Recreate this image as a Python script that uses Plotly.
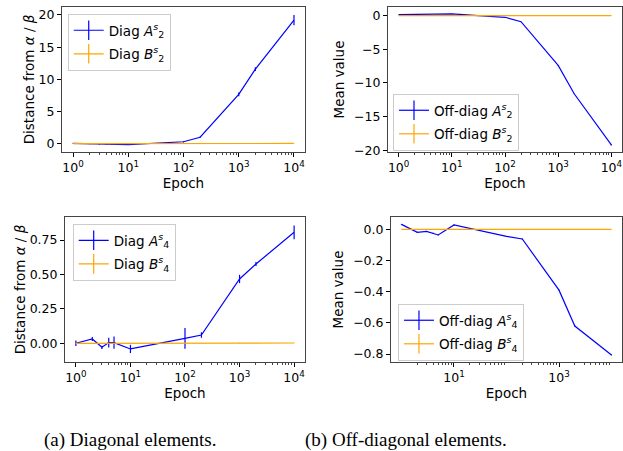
import plotly.graph_objects as go

# ---------------- data ----------------
epochs = [1, 2, 3, 4, 5, 10, 100, 200, 1000, 2000, 10000]

diag_a2 = [0.10, 0.02, -0.05, -0.05, -0.08, -0.10, 0.35, 1.05, 7.7, 11.6, 19.2]
diag_a2_err = [0.05, 0.05, 0.05, 0.05, 0.05, 0.05, 0.10, 0.10, 0.30, 0.30, 0.80]
diag_b2 = [0.05, 0.05, 0.05, 0.05, 0.05, 0.05, 0.06, 0.06, 0.07, 0.07, 0.08]
diag_b2_err = [0.02] * 11

off_a2 = [0.15, 0.20, 0.20, 0.20, 0.20, 0.25, -0.25, -0.90, -7.4, -11.6, -19.2]
off_a2_err = [0.02, 0.02, 0.02, 0.02, 0.02, 0.02, 0.03, 0.03, 0.05, 0.05, 0.10]
off_b2 = [0.0, 0.0, 0.0, 0.0, 0.0, 0.0, 0.0, 0.0, 0.0, 0.0, 0.0]
off_b2_err = [0.01] * 11

diag_a4 = [0.0, 0.031, -0.029, 0.005, 0.005, -0.041, 0.036, 0.060, 0.467, 0.576, 0.806]
diag_a4_err = [0.020, 0.015, 0.012, 0.035, 0.045, 0.030, 0.075, 0.020, 0.030, 0.015, 0.050]
diag_b4 = [0.0, 0.0, 0.0, 0.0, 0.0, 0.0, 0.001, 0.001, 0.002, 0.002, 0.002]
diag_b4_err = [0.002] * 11

off_a4 = [0.032, -0.019, -0.013, -0.025, -0.036, 0.028, -0.045, -0.062, -0.39, -0.62, -0.806]
off_a4_err = [0.003] * 11
off_b4 = [0.0] * 11
off_b4_err = [0.001] * 11

x_tickvals = [1, 10, 100, 1000, 10000]
x_ticktext = ["10<sup>0</sup>", "10<sup>1</sup>", "10<sup>2</sup>", "10<sup>3</sup>", "10<sup>4</sup>"]
x_tickvals_b = [10, 1000]
x_ticktext_b = ["10<sup>1</sup>", "10<sup>3</sup>"]

BLUE = "#0000ff"
ORANGE = "#ffa500"
FONT = "DejaVu Sans"

minor_vals = []
for d in [1, 10, 100, 1000]:
    for k in range(2, 10):
        minor_vals.append(d * k)

fig = go.Figure()

panels = [
    ("x", "y", diag_a2, diag_a2_err, diag_b2, diag_b2_err,
     "Diag <i>A</i><sup><i>s</i></sup><sub>2</sub>", "Diag <i>B</i><sup><i>s</i></sup><sub>2</sub>", "legend"),
    ("x2", "y2", off_a2, off_a2_err, off_b2, off_b2_err,
     "Off-diag <i>A</i><sup><i>s</i></sup><sub>2</sub>", "Off-diag <i>B</i><sup><i>s</i></sup><sub>2</sub>", "legend2"),
    ("x3", "y3", diag_a4, diag_a4_err, diag_b4, diag_b4_err,
     "Diag <i>A</i><sup><i>s</i></sup><sub>4</sub>", "Diag <i>B</i><sup><i>s</i></sup><sub>4</sub>", "legend3"),
    ("x4", "y4", off_a4, off_a4_err, off_b4, off_b4_err,
     "Off-diag <i>A</i><sup><i>s</i></sup><sub>4</sub>", "Off-diag <i>B</i><sup><i>s</i></sup><sub>4</sub>", "legend4"),
]

gi = 0
for xa, ya, av, ae, bv, be, an, bn, lg in panels:
    for vals, errs, col, name in [(av, ae, BLUE, an), (bv, be, ORANGE, bn)]:
        fig.add_trace(go.Scatter(
            x=epochs, y=vals, mode="lines", xaxis=xa, yaxis=ya,
            line=dict(color=col, width=1.2), showlegend=False,
            error_y=dict(type="data", array=errs, visible=True, color=col,
                         thickness=1.2, width=0),
        ))
    for col, name in [(BLUE, an), (ORANGE, bn)]:
        gi += 1
        fig.add_trace(go.Scatter(
            x=[None], y=[None], mode="lines+markers", xaxis=xa, yaxis=ya,
            name=name, legend=lg, legendgroup="g%d" % gi,
            line=dict(color=col, width=1.2),
            marker=dict(symbol="line-ns-open", size=14, color=col,
                        line=dict(color=col, width=1.2)),
        ))

def xaxis_cfg(domain, tv, tt):
    return dict(domain=domain, type="log", range=[-0.2, 4.2],
                tickvals=tv, ticktext=tt, ticks="outside", ticklen=4,
                tickcolor="black", showline=True, mirror=True, linecolor="#444",
                linewidth=1, showgrid=False, zeroline=False, automargin=False,
                tickfont=dict(family=FONT, size=12.5, color="black"),
                title=dict(text="Epoch", font=dict(family=FONT, size=13.5, color="black"),
                           standoff=4),
                minor=dict(tickvals=minor_vals, ticks="outside", ticklen=2,
                           tickcolor="#444", showgrid=False))

def yaxis_cfg(domain, rng, tv, fmt, title, so):
    return dict(domain=domain, range=rng, tickvals=tv, tickformat=fmt,
                ticks="outside", ticklen=4, tickcolor="black", showline=True,
                mirror=True, linecolor="#444", linewidth=1, showgrid=False,
                zeroline=False, automargin=False,
                tickfont=dict(family=FONT, size=12.5, color="black"),
                title=dict(text=title, font=dict(family=FONT, size=13.5, color="black"),
                           standoff=so))

top = [0.663, 0.9845]
bot = [0.1973, 0.5188]
dist_title = "Distance from <i>α</i> / <i>β</i>"

fig.update_layout(
    width=623, height=451,
    margin=dict(l=0, r=0, t=0, b=0),
    paper_bgcolor="white", plot_bgcolor="white",
    font=dict(family=FONT, color="black"),
    xaxis=dict(xaxis_cfg([0.0995, 0.4896], x_tickvals, x_ticktext), anchor="y"),
    yaxis=dict(yaxis_cfg(top, [-1.24, 21.24], [0, 5, 10, 15, 20], "d", dist_title, 0), anchor="x"),
    xaxis2=dict(xaxis_cfg([0.6228, 0.9984], x_tickvals, x_ticktext), anchor="y2"),
    yaxis2=dict(yaxis_cfg(top, [-20.25, 1.28], [0, -5, -10, -15, -20], "d", "Mean value", 6), anchor="x2"),
    xaxis3=dict(xaxis_cfg([0.1043, 0.4896], x_tickvals, x_ticktext), anchor="y3"),
    yaxis3=dict(yaxis_cfg(bot, [-0.136, 0.917], [0, 0.25, 0.5, 0.75], ".2f", dist_title, 0), anchor="x3"),
    xaxis4=dict(xaxis_cfg([0.6276, 0.9984], x_tickvals_b, x_ticktext_b), anchor="y4"),
    yaxis4=dict(yaxis_cfg(bot, [-0.851, 0.079], [0, -0.2, -0.4, -0.6, -0.8], ".1f", "Mean value", 6), anchor="x4"),
)

leg_common = dict(xanchor="left", yanchor="top", bgcolor="rgba(255,255,255,0.85)",
                  bordercolor="#cccccc", borderwidth=1, tracegroupgap=3,
                  font=dict(family=FONT, size=13.5, color="black"))
fig.update_layout(
    legend=dict(leg_common, x=0.1087, y=0.969),
    legend2=dict(leg_common, x=0.6308, y=0.7916),
    legend3=dict(leg_common, x=0.1167, y=0.5033),
    legend4=dict(leg_common, x=0.6388, y=0.326),
)

fig.add_annotation(text="(a) Diagonal elements.", x=0.21, y=0.0244, xref="paper", yref="paper",
                   showarrow=False, xanchor="center", yanchor="middle",
                   font=dict(family="Liberation Serif", size=19, color="black"))
fig.add_annotation(text="(b) Off-diagonal elements.", x=0.652, y=0.0244, xref="paper", yref="paper",
                   showarrow=False, xanchor="center", yanchor="middle",
                   font=dict(family="Liberation Serif", size=19, color="black"))

fig.write_html("out.html", config={"displayModeBar": False},
               post_script="document.body.style.margin='0';document.body.style.overflow='hidden';")
